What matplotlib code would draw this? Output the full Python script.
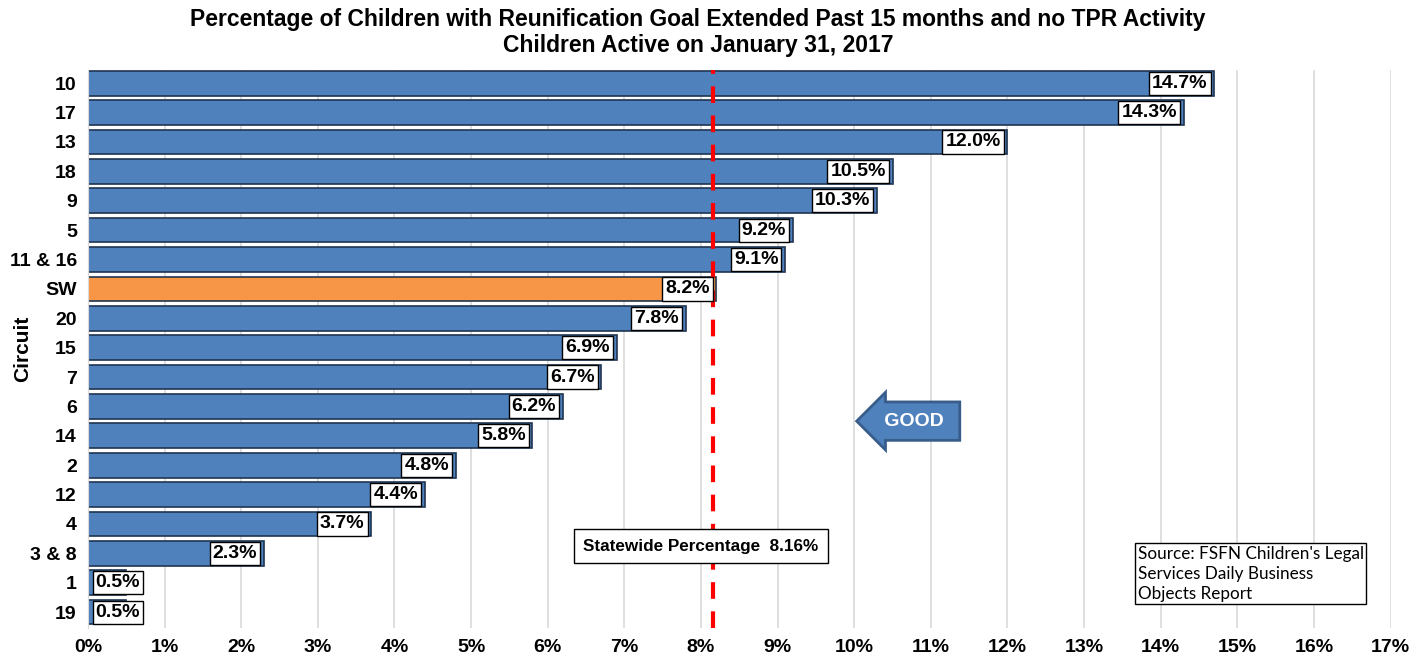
import matplotlib
matplotlib.use('Agg')
import matplotlib.pyplot as plt
from matplotlib.ticker import FuncFormatter, MultipleLocator

plt.rcParams['font.family'] = ['Liberation Sans', 'DejaVu Sans']

# Circuits, top to bottom
circuits = ['10', '17', '13', '18', '9', '5', '11 & 16', 'SW', '20', '15', '7', '6',
            '14', '2', '12', '4', '3 & 8', '1', '19']
pct = [14.7, 14.3, 12.0, 10.5, 10.3, 9.2, 9.1, 8.2, 7.8, 6.9, 6.7, 6.2,
       5.8, 4.8, 4.4, 3.7, 2.3, 0.5, 0.5]
statewide = 8.16

blue = '#4F81BD'
orange = '#F79646'

fig = plt.figure(figsize=(14.19, 6.6), dpi=100)
ax = fig.add_axes([0.062, 0.048, 0.918, 0.846])

ypos = list(range(len(circuits)))
colors = [orange if c == 'SW' else blue for c in circuits]
ax.barh(ypos, pct, height=0.84, color=colors, edgecolor='#1F3552', linewidth=1.2, zorder=2)

# value labels in white boxes at the bar ends
for y, v in zip(ypos, pct):
    if v < 1:
        ax.text(0.1, y, f'{v:.1f}%', ha='left', va='center', fontsize=14, fontweight='bold',
                bbox=dict(boxstyle='square,pad=0.16', fc='white', ec='black', lw=1), zorder=4)
    else:
        ax.text(v - 0.09, y, f'{v:.1f}%', ha='right', va='center', fontsize=14, fontweight='bold',
                bbox=dict(boxstyle='square,pad=0.16', fc='white', ec='black', lw=1), zorder=4)

ax.axvline(statewide, color='#FF0000', linestyle=(0, (4, 3)), linewidth=3, zorder=3)

ax.text(8.0, 15.75, f'Statewide Percentage  {statewide:.2f}%', ha='center', va='center',
        fontsize=12.3, fontweight='bold',
        bbox=dict(boxstyle='square,pad=0.55', fc='white', ec='black', lw=1), zorder=5)

ax.text(10.78, 11.5, ' GOOD ', ha='center', va='center', color='white', fontsize=14,
        fontweight='bold',
        bbox=dict(boxstyle='larrow,pad=0.55', fc=blue, ec='#385D8A', lw=2), zorder=5)

ax.text(13.7, 15.75, "Source: FSFN Children's Legal\nServices Daily Business\nObjects Report",
        ha='left', va='top', fontsize=12.3, family=['Lato', 'DejaVu Sans'], linespacing=1.3,
        bbox=dict(boxstyle='square,pad=0.15', fc='white', ec='black', lw=1), zorder=5)

ax.set_xlim(0, 17)
ax.set_ylim(len(circuits) - 0.45, -0.45)
ax.xaxis.set_major_locator(MultipleLocator(1))
ax.xaxis.set_major_formatter(FuncFormatter(lambda x, p: f'{x:.0f}%'))
ax.set_yticks(ypos)
ax.set_yticklabels(circuits)
ax.tick_params(axis='both', length=0, labelsize=14)
for lbl in ax.get_xticklabels() + ax.get_yticklabels():
    lbl.set_fontweight('bold')
ax.tick_params(axis='x', pad=8)
ax.tick_params(axis='y', pad=8)
ax.grid(axis='x', color='#D9D9D9', linewidth=1.2, zorder=0)
ax.set_axisbelow(True)
for s in ['top', 'right', 'bottom']:
    ax.spines[s].set_visible(False)
ax.spines['left'].set_color('#D9D9D9')

ax.set_ylabel('Circuit', fontsize=15, fontweight='bold')
ax.yaxis.set_label_coords(-0.043, 0.5)

fig.text(0.492, 0.988, 'Percentage of Children with Reunification Goal Extended Past 15 months and no TPR Activity\n'
         'Children Active on January 31, 2017', ha='center', va='top', fontsize=16.5,
         fontweight='bold', linespacing=1.15)

fig.savefig('out.png', dpi=100)
